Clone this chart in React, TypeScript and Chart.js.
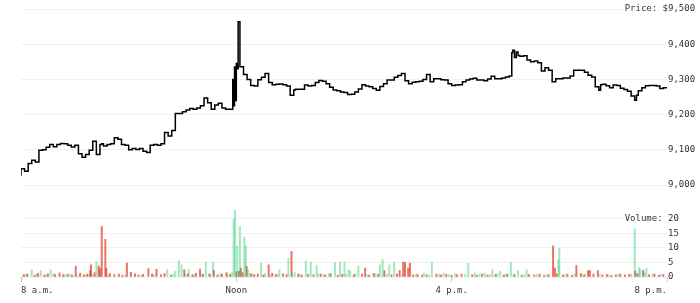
import React, { useEffect, useRef } from 'react';
import { Chart, registerables } from 'chart.js';

Chart.register(...registerables);

// minutes after 8 a.m.
const priceMinutes = [
  0, 4, 8, 12, 16, 20, 24, 28, 32, 36, 40, 44, 48, 52, 56, 60, 64, 68, 72, 76, 80, 84, 88, 90, 92, 96,
  100, 104, 108, 112, 116, 120, 124, 128, 132, 136, 140, 144, 148, 152, 156, 160, 164, 168, 172, 176,
  180, 184, 188, 192, 196, 200, 204, 208, 212, 216, 220, 224, 228, 232, 236, 237, 238, 239, 240, 241,
  242, 244, 245, 248, 252, 256, 260, 264, 268, 272, 276, 280, 284, 288, 292, 296, 300, 304, 306, 308,
  312, 316, 320, 324, 328, 332, 336, 340, 344, 348, 352, 356, 360, 364, 368, 372, 376, 380, 384, 388,
  392, 396, 400, 404, 408, 412, 416, 420, 424, 428, 432, 436, 440, 444, 448, 452, 456, 460, 464, 468,
  472, 476, 480, 484, 488, 492, 496, 500, 504, 508, 512, 516, 520, 524, 528, 532, 536, 540, 544, 547,
  548, 550, 552, 554, 556, 560, 564, 568, 572, 576, 580, 584, 588, 592, 596, 600, 604, 608, 612, 616,
  620, 624, 628, 632, 636, 640, 644, 646, 648, 652, 656, 660, 664, 668, 672, 676, 680, 684, 686, 688,
  692, 696, 700, 704, 708, 712, 716, 720,
];
const priceValues = [
  9026, 9046, 9039, 9061, 9070, 9065, 9099, 9100, 9107, 9115, 9109, 9115, 9118, 9117, 9113, 9108, 9113,
  9089, 9079, 9087, 9099, 9124, 9087, 9115, 9117, 9111,
  9115, 9117, 9134, 9130, 9115, 9113, 9100, 9104, 9101, 9104, 9096, 9092, 9113, 9115, 9113, 9117, 9149,
  9139, 9155, 9203,
  9203, 9208, 9213, 9217, 9215, 9219, 9225, 9247, 9234, 9215, 9227, 9232, 9219, 9215, 9215, 9300, 9225,
  9335, 9240, 9345,
  9330, 9464, 9336, 9336, 9314, 9300, 9283, 9281, 9299, 9306, 9317, 9291, 9285, 9286, 9287, 9285, 9281,
  9255, 9270, 9272,
  9272, 9272, 9284, 9281, 9283, 9291, 9297, 9295, 9288, 9278, 9270, 9268, 9264, 9263, 9257, 9258, 9264,
  9273, 9285, 9281,
  9279, 9274, 9269, 9280, 9288, 9298, 9298, 9306, 9311, 9317, 9296, 9288, 9292, 9293, 9295, 9300, 9314,
  9293, 9302, 9302,
  9299, 9298, 9288, 9283, 9284, 9285, 9293, 9298, 9301, 9303, 9298, 9298, 9296, 9301, 9309, 9302, 9302,
  9304, 9307, 9310,
  9376, 9383, 9362, 9378, 9368, 9366, 9367, 9355, 9350, 9352, 9347, 9324, 9333, 9326, 9293, 9302, 9302,
  9304, 9304, 9310,
  9326, 9326, 9326, 9320, 9312, 9307, 9279, 9269, 9285, 9286, 9282, 9276, 9284, 9283, 9275, 9271, 9266,
  9253, 9241, 9255,
  9268, 9276, 9282, 9283, 9283, 9281, 9274, 9276,
];

// [minute, volume] for up-minute bars
const greenVolume: [number, number][] = [
  [5, 0.9], [12, 2.5], [17, 1.0], [22, 2.2], [28, 0.6], [33, 2.5], [36, 1.2], [49, 0.8], [55, 1.0],
  [64, 0.5], [72, 0.8], [80, 0.9], [84, 5.4], [97, 0.6], [116, 0.7], [134, 0.6], [148, 0.8], [163, 2.5],
  [170, 1.0], [172, 2.0], [176, 5.6], [179, 4.2], [183, 1.2], [187, 2.5], [193, 0.8], [201, 1.0],
  [206, 5.1], [211, 0.7], [214, 5.1], [222, 1.1], [230, 0.9], [235, 1.5], [237, 20], [238.5, 23],
  [241, 10.7], [244, 17.4], [249, 13.7], [250.5, 10.7], [253, 2.5], [258, 1.0], [267.5, 4.8], [272, 1.2],
  [278, 0.8], [286, 1.0], [288, 2.5], [298, 6.5], [302, 1.1], [305, 1.6], [311, 0.9], [317.5, 5.6],
  [323, 5.1], [329.5, 3.9], [331, 1.0], [337, 0.8], [343, 1.2], [350, 5.0], [355.5, 5.1], [360.5, 5.1],
  [362, 0.9], [365, 2.5], [367, 2.0], [373, 1.0], [376, 3.7], [386, 0.8], [395, 1.2], [400, 4.2],
  [403, 6.0], [408, 1.0], [410.5, 4.2], [416, 5.1], [425, 0.8], [440, 0.9], [449, 1.3], [455, 0.7],
  [458, 5.1], [466, 1.0], [471, 1.3], [477, 0.8], [484, 1.1], [495, 0.9], [498.5, 4.8], [506, 1.4],
  [511, 1.0], [517, 1.3], [523, 0.8], [525.5, 2.5], [531, 1.2], [534, 2.0], [540, 0.9], [546, 5.1],
  [549, 1.0], [554, 2.2], [561, 0.8], [563.5, 2.5], [575, 0.9], [586, 0.7], [599, 6.0], [600, 9.9],
  [606, 0.8], [617, 1.0], [626, 0.6], [645, 0.8], [655, 0.7], [666, 0.9], [680, 1.0], [684, 16.6],
  [689, 3.3], [690, 2.5], [693, 2.5], [695, 1.5], [697, 3.0], [704, 1.0], [713, 0.8],
];

// [minute, volume] for down-minute bars
const redVolume: [number, number][] = [
  [3, 0.8], [7, 1.0], [15, 0.6], [19, 1.2], [26, 0.7], [30, 1.1], [38, 0.9], [43, 1.4], [47, 0.8],
  [52, 1.0], [57, 0.6], [61, 3.7], [66, 1.3], [70, 0.7], [74, 1.0], [77, 2.2], [78, 4.2], [82, 1.5],
  [86.5, 3.8], [88, 3.0], [90, 17.4], [94, 13], [95, 3.0], [99, 1.2], [104, 0.8], [109, 1.0], [113, 0.6],
  [118, 4.8], [122.5, 1.6], [127, 1.1], [131, 0.7], [136, 0.9], [142, 2.9], [146, 1.0], [151, 2.7],
  [156, 0.8], [160, 1.2], [167, 0.7], [182, 2.5], [186, 1.0], [191, 0.8], [195, 1.3], [199.5, 2.7],
  [203, 0.9], [210, 1.1], [215, 2.3], [219, 0.7], [224, 1.0], [229, 1.5], [233, 0.9], [240, 1.8],
  [243, 2.0], [245, 3.1], [247, 1.5], [251.5, 3.7], [256, 1.2], [260, 0.8], [264, 1.0], [270, 0.7],
  [276, 4.2], [280, 1.3], [284, 0.9], [292, 1.1], [296, 0.8], [301.5, 8.8], [309, 1.0], [313, 0.6],
  [320, 0.9], [326, 0.8], [334, 1.0], [339, 0.7], [345, 1.2], [353, 0.6], [358, 0.9], [371, 0.8],
  [380, 1.0], [383.5, 3.1], [388, 0.7], [393, 1.2], [398, 0.9], [405, 2.2], [413, 0.8], [419, 1.0],
  [422, 2.2], [426, 5.1], [428, 5.1], [431.5, 3.1], [433.5, 4.8], [437, 0.7], [442, 0.9], [447, 0.6],
  [452, 0.8], [463, 1.0], [468, 0.7], [474, 0.9], [480, 0.6], [486, 0.8], [491, 1.0], [503, 0.8],
  [508, 0.6], [514, 1.0], [520, 0.7], [529, 0.9], [538, 0.7], [542, 1.0], [550, 0.8], [558, 0.6],
  [566, 0.9], [572, 0.7], [578, 1.0], [583, 0.6], [588, 0.8], [593, 10.7], [595, 3.1], [597, 1.1],
  [604, 0.7], [609, 1.0], [614, 0.6], [619, 4.0], [624, 1.2], [628, 0.8], [632, 2.2], [634, 2.2],
  [638, 1.0], [643, 2.2], [648, 0.7], [653, 0.9], [658, 0.6], [663, 0.8], [668, 1.0], [673, 0.7],
  [678, 0.9], [684.5, 2.0], [687, 1.2], [693.5, 2.2], [700, 0.8], [706, 1.0], [711, 0.6], [716, 0.9],
];

const priceTicks = [9000, 9100, 9200, 9300, 9400, 9500];
const volumeTicks = [0, 5, 10, 15, 20];
const timeTicks = [0, 240, 480, 720];
const timeLabels = ['8 a.m.', 'Noon', '4 p.m.', '8 p.m.'];

const FONT = "'DejaVu Sans Mono', monospace";
const TEXT = '#333333';
const GRID = 'rgba(0,0,0,0.06)';

const prefixPlugin = {
  id: 'axisPrefix',
  afterDraw(chart: any) {
    const ctx = chart.ctx;
    const draw = (id: string, value: number, text: string) => {
      const s = chart.scales[id];
      if (!s) return;
      const y = s.getPixelForValue(value);
      const x = s.left + 1;
      ctx.save();
      ctx.font = `9px ${FONT}`;
      const w = ctx.measureText(text).width;
      ctx.fillStyle = '#ffffff';
      ctx.fillRect(x - w - 2, y - 6, w + 2, 12);
      ctx.fillStyle = TEXT;
      ctx.textAlign = 'right';
      ctx.textBaseline = 'middle';
      ctx.fillText(text, x, y);
      ctx.restore();
    };
    draw('yp', 9500, 'Price: $');
    draw('yv', 20, 'Volume: ');
  },
};

export default function App() {
  const ref = useRef<HTMLCanvasElement | null>(null);

  useEffect(() => {
    if (!ref.current) return;
    const chart = new Chart(ref.current, {
      type: 'line',
      data: {
        datasets: [
          {
            type: 'line',
            label: 'Price',
            data: priceMinutes.map((m, i) => ({ x: m, y: priceValues[i] })),
            yAxisID: 'yp',
            borderColor: '#000000',
            borderWidth: 1.5,
            pointRadius: 0,
            stepped: 'after',
            fill: false,
          },
          {
            type: 'bar',
            label: 'Up volume',
            data: greenVolume.map(([m, v]) => ({ x: m, y: v })),
            yAxisID: 'yv',
            backgroundColor: 'rgba(46,204,113,0.45)',
            borderWidth: 0,
            barThickness: 1.3,
            grouped: false,
          } as any,
          {
            type: 'bar',
            label: 'Down volume',
            data: redVolume.map(([m, v]) => ({ x: m, y: v })),
            yAxisID: 'yv',
            backgroundColor: 'rgba(231,76,60,0.8)',
            borderWidth: 0,
            barThickness: 1.3,
            grouped: false,
          } as any,
        ],
      },
      options: {
        responsive: false,
        animation: false,
        layout: { padding: { left: 21, top: 9, right: 0, bottom: 0 } },
        plugins: { legend: { display: false }, tooltip: { enabled: false } },
        scales: {
          x: {
            type: 'linear',
            min: 0,
            max: 720,
            offset: false,
            position: 'bottom',
            afterBuildTicks: (s: any) => {
              s.ticks = timeTicks.map((v) => ({ value: v }));
            },
            afterFit: (s: any) => {
              s.height = 26;
            },
            grid: {
              offset: false,
              drawOnChartArea: false,
              drawTicks: true,
              tickLength: 5,
              color: '#cccccc',
            },
            border: { display: false },
            ticks: {
              autoSkip: false,
              maxRotation: 0,
              align: 'inner',
              padding: 3,
              color: TEXT,
              font: { family: FONT, size: 9 },
              callback: (v: any) => {
                const i = timeTicks.indexOf(Number(v));
                return i >= 0 ? timeLabels[i] : '';
              },
            },
          } as any,
          yp: {
            type: 'linear',
            position: 'right',
            stack: 'right',
            stackWeight: 191,
            min: 8957.4,
            max: 9500,
            afterBuildTicks: (s: any) => {
              s.ticks = priceTicks.map((v) => ({ value: v }));
            },
            afterFit: (s: any) => {
              s.width = 33;
            },
            grid: { color: GRID, drawTicks: false },
            border: { display: false },
            ticks: {
              autoSkip: false,
              padding: 1,
              color: TEXT,
              font: { family: FONT, size: 9 },
              callback: (v: any) => Number(v).toLocaleString('en-US'),
            },
          } as any,
          yv: {
            type: 'linear',
            position: 'right',
            stack: 'right',
            stackWeight: 77,
            min: 0,
            max: 26.55,
            afterBuildTicks: (s: any) => {
              s.ticks = volumeTicks.map((v) => ({ value: v }));
            },
            afterFit: (s: any) => {
              s.width = 33;
            },
            grid: { color: GRID, drawTicks: false },
            border: { display: false },
            ticks: {
              autoSkip: false,
              padding: 1,
              color: TEXT,
              font: { family: FONT, size: 9 },
              callback: (v: any) => String(v),
            },
          } as any,
        },
      },
      plugins: [prefixPlugin],
    });
    return () => chart.destroy();
  }, []);

  return (
    <div style={{ position: 'absolute', left: 0, top: 0, width: 700, height: 303, background: '#fff' }}>
      <canvas ref={ref} width={700} height={303} />
    </div>
  );
}
